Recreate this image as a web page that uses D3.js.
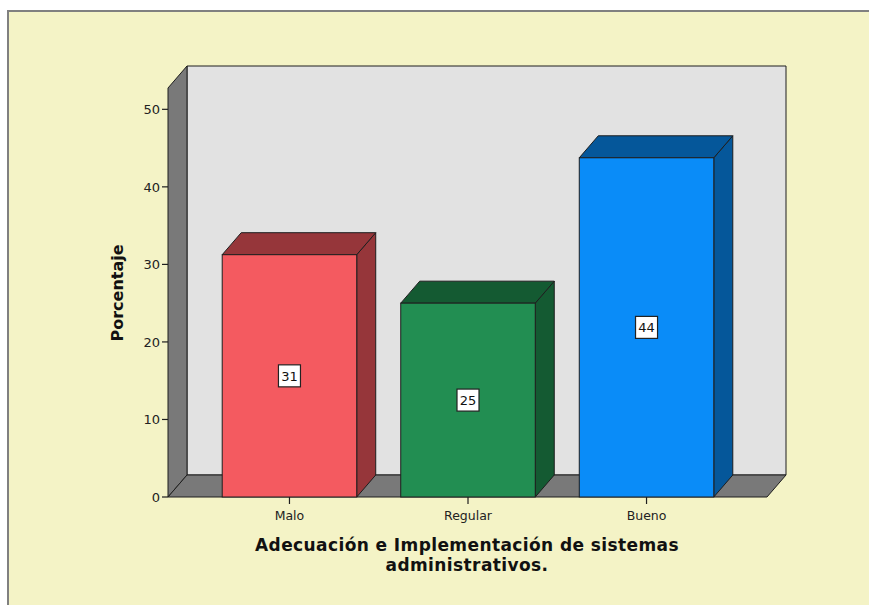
<!DOCTYPE html>
<html>
<head>
<meta charset="utf-8">
<script src="https://cdn.jsdelivr.net/npm/d3@7"></script>
<style>
  html, body { margin: 0; padding: 0; background: #ffffff; }
  svg { display: block; }
  text { font-family: "DejaVu Sans", Verdana, sans-serif; }
</style>
</head>
<body>
<svg id="chart" width="869" height="605"></svg>
<script>
// ---- data ----
const categories = ["Malo", "Regular", "Bueno"];
const values = [31.25, 25.0, 43.75];
const valueLabels = ["31", "25", "44"];
const yTicks = [0, 10, 20, 30, 40, 50];
const frontColors = ["#f45a60", "#228e52", "#0a8cf8"];
const darkColors = ["#96363a", "#145a32", "#05579a"];
const yTitle = "Porcentaje";
const xTitleLines = ["Adecuación e Implementación de sistemas", "administrativos."];

// ---- layout ----
const W = 869, H = 605;
const svg = d3.select("#chart");
const dx = 19, dy = -22;          // 3D depth offset
const x0 = 168, x1 = 767;         // front plane horizontal extent
const yBase = 497, yTop = 88;     // front plane vertical extent
const yMaxVal = 52.75;

const y = d3.scaleLinear().domain([0, yMaxVal]).range([yBase, yTop]);
const x = d3.scaleBand().domain(categories).range([x0 + 1, x1])
  .paddingInner(0.2465).paddingOuter(0.298);

// frame
svg.append("rect").attr("x", 8).attr("y", 11).attr("width", W + 20).attr("height", H + 20)
  .attr("fill", "#f4f3c6").attr("stroke", "#808080").attr("stroke-width", 2);

const edge = "#1e1e1e";
const poly = pts => pts.map(p => p.join(",")).join(" ");

// back wall
svg.append("polygon")
  .attr("points", poly([[x0 + dx, yTop + dy], [x1 + dx, yTop + dy], [x1 + dx, yBase + dy], [x0 + dx, yBase + dy]]))
  .attr("fill", "#e2e2e2").attr("stroke", edge).attr("stroke-width", 1);
// left wall
svg.append("polygon")
  .attr("points", poly([[x0, yTop], [x0 + dx, yTop + dy], [x0 + dx, yBase + dy], [x0, yBase]]))
  .attr("fill", "#797979").attr("stroke", edge).attr("stroke-width", 1);
// floor
svg.append("polygon")
  .attr("points", poly([[x0, yBase], [x1, yBase], [x1 + dx, yBase + dy], [x0 + dx, yBase + dy]]))
  .attr("fill", "#797979").attr("stroke", edge).attr("stroke-width", 1);

// bars
const bars = svg.append("g").selectAll("g").data(categories).join("g");
bars.each(function(c, i) {
  const g = d3.select(this);
  const bx0 = x(c), bx1 = x(c) + x.bandwidth();
  const ty = y(values[i]);
  // side
  g.append("polygon")
    .attr("points", poly([[bx1, ty], [bx1 + dx, ty + dy], [bx1 + dx, yBase + dy], [bx1, yBase]]))
    .attr("fill", darkColors[i]).attr("stroke", edge).attr("stroke-width", 1);
  // top
  g.append("polygon")
    .attr("points", poly([[bx0, ty], [bx0 + dx, ty + dy], [bx1 + dx, ty + dy], [bx1, ty]]))
    .attr("fill", darkColors[i]).attr("stroke", edge).attr("stroke-width", 1);
  // front
  g.append("rect").attr("x", bx0).attr("y", ty).attr("width", bx1 - bx0).attr("height", yBase - ty)
    .attr("fill", frontColors[i]).attr("stroke", edge).attr("stroke-width", 1);
  // value label
  const cx = (bx0 + bx1) / 2, cy = (ty + yBase) / 2;
  g.append("rect").attr("x", cx - 11).attr("y", cy - 11).attr("width", 22).attr("height", 22)
    .attr("fill", "#ffffff").attr("stroke", "#222").attr("stroke-width", 1.2);
  g.append("text").attr("x", cx).attr("y", cy + 5).attr("text-anchor", "middle")
    .attr("font-size", 13).attr("fill", "#111").text(valueLabels[i]);
});

// y axis ticks
const yAxis = svg.append("g");
yAxis.selectAll("line").data(yTicks).join("line")
  .attr("x1", x0 - 6).attr("x2", x0).attr("y1", d => y(d)).attr("y2", d => y(d))
  .attr("stroke", edge).attr("stroke-width", 1.2);
yAxis.selectAll("text").data(yTicks).join("text")
  .attr("x", x0 - 8).attr("y", d => y(d) + 5).attr("text-anchor", "end")
  .attr("font-size", 13).attr("fill", "#222").text(d => d);

// x axis ticks
const xAxis = svg.append("g");
xAxis.selectAll("line").data(categories).join("line")
  .attr("x1", d => x(d) + x.bandwidth() / 2).attr("x2", d => x(d) + x.bandwidth() / 2)
  .attr("y1", yBase).attr("y2", yBase + 7).attr("stroke", edge).attr("stroke-width", 1.2);
xAxis.selectAll("text").data(categories).join("text")
  .attr("x", d => x(d) + x.bandwidth() / 2).attr("y", yBase + 23).attr("text-anchor", "middle")
  .attr("font-size", 12.5).attr("fill", "#222").text(d => d);

// titles
svg.append("text").attr("transform", "translate(123,293) rotate(-90)")
  .attr("text-anchor", "middle").attr("font-size", 16).attr("font-weight", "bold")
  .attr("fill", "#111").text(yTitle);
svg.append("g").selectAll("text").data(xTitleLines).join("text")
  .attr("x", 467).attr("y", (d, i) => 551 + i * 20).attr("text-anchor", "middle")
  .attr("font-size", 17).attr("letter-spacing", 0.4).attr("font-weight", "bold")
  .attr("fill", "#111").text(d => d);
</script>
</body>
</html>
